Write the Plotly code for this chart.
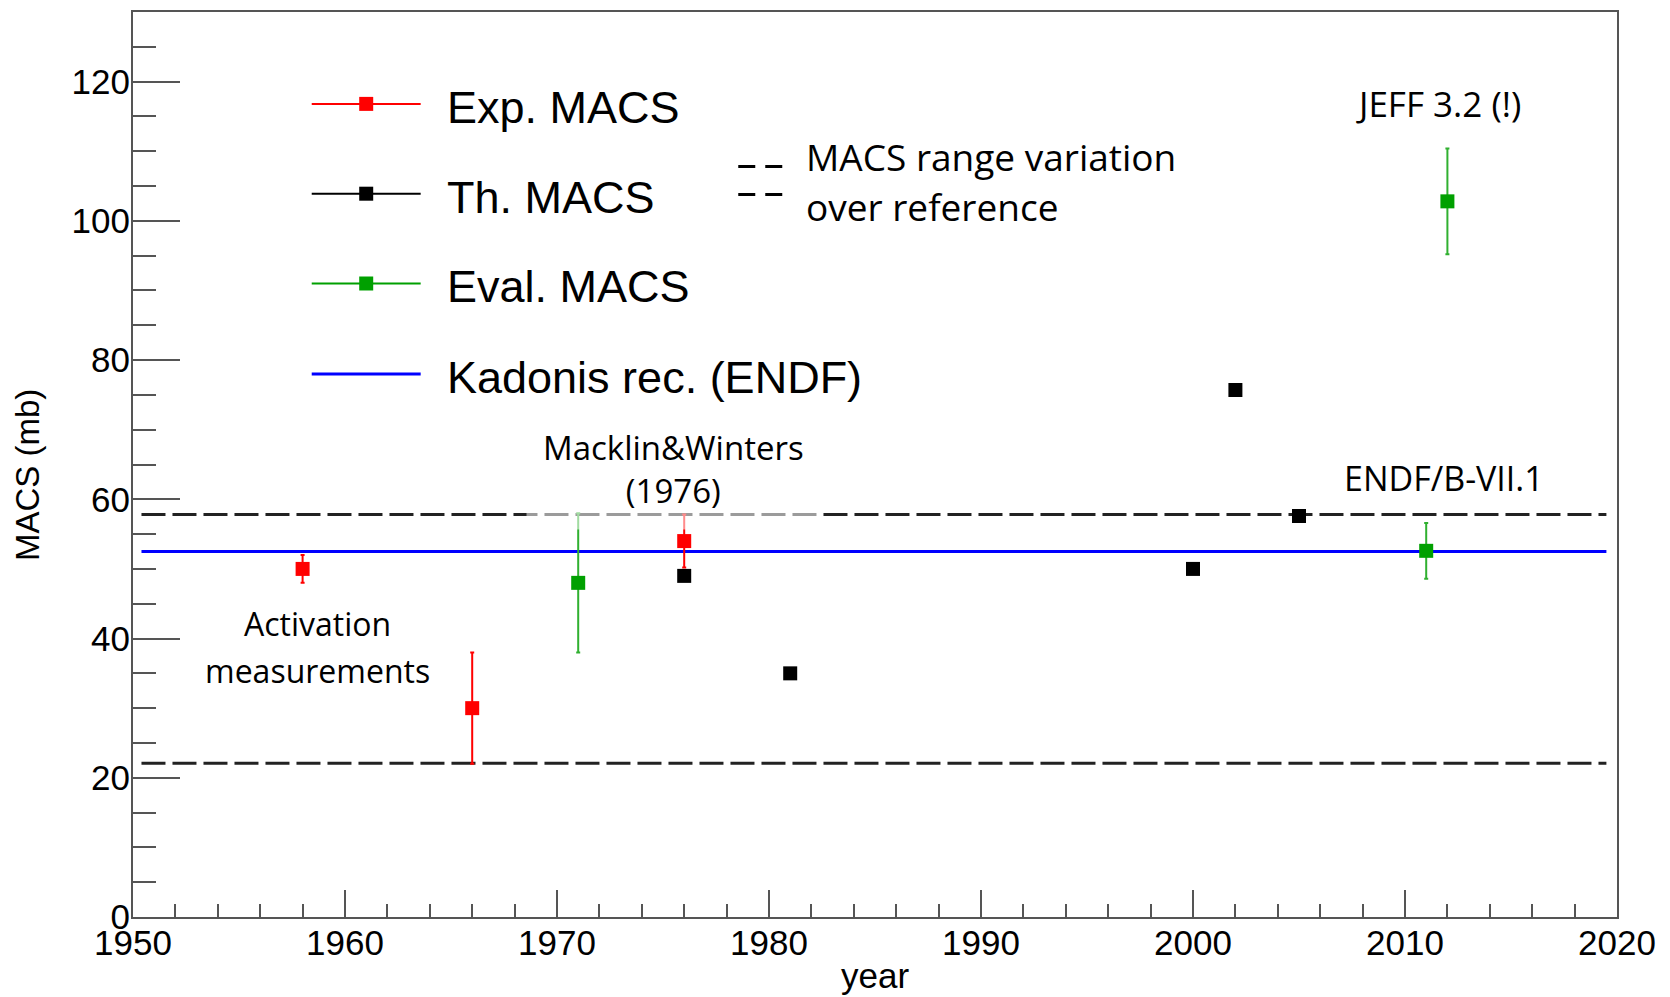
import plotly.graph_objects as go

# ---- data (MACS in mb versus year of publication) ----
exp_year = [1958, 1966, 1976]
exp_macs = [50.0, 30.0, 54.0]
exp_err = [2.0, 8.0, 3.8]

th_year = [1976, 1981, 2000, 2002, 2005]
th_macs = [49.0, 35.0, 50.0, 75.7, 57.6]

eval_year = [1971, 2011, 2012]
eval_macs = [48.0, 52.6, 102.8]
eval_err = [10.0, 4.0, 7.6]

kadonis_macs = 52.5          # recommended value (ENDF)
range_low = 22.1             # lower edge of MACS spread
range_high = 57.8            # upper edge of MACS spread
ref_span = [1950.4, 2019.5]  # horizontal extent of the reference lines

x_ticks = [1950, 1960, 1970, 1980, 1990, 2000, 2010, 2020]
y_ticks = [0, 20, 40, 60, 80, 100, 120]

# ---- style ----
AXIS_FONT = "Liberation Sans, Arial, Helvetica, sans-serif"
NOTE_FONT = "Open Sans, sans-serif"
RED = "#ff0000"
BLACK = "#000000"
GREEN = "#00a000"
GREEN_ERR = "#30b030"
BLUE = "#0000ff"
FRAME = "#555555"
DASH_COL = "#222222"

fig = go.Figure()

# reference lines
for yv in (range_high, range_low):
    fig.add_trace(go.Scatter(
        x=ref_span, y=[yv, yv], mode="lines",
        line=dict(color=DASH_COL, width=3, dash="24px,7px"),
        showlegend=False, hoverinfo="skip"))
fig.add_trace(go.Scatter(
    x=ref_span, y=[kadonis_macs, kadonis_macs], mode="lines",
    line=dict(color=BLUE, width=3), showlegend=False, hoverinfo="skip"))

# measurements / calculations / evaluations
fig.add_trace(go.Scatter(
    x=exp_year, y=exp_macs, mode="markers", name="Exp. MACS",
    marker=dict(symbol="square", size=14, color=RED, line=dict(width=0)),
    error_y=dict(type="data", array=exp_err, color=RED, thickness=2, width=2),
    showlegend=False))
fig.add_trace(go.Scatter(
    x=eval_year, y=eval_macs, mode="markers", name="Eval. MACS",
    marker=dict(symbol="square", size=14, color=GREEN, line=dict(width=0)),
    error_y=dict(type="data", array=eval_err, color=GREEN_ERR, thickness=2, width=2),
    showlegend=False))
fig.add_trace(go.Scatter(
    x=th_year, y=th_macs, mode="markers", name="Th. MACS",
    marker=dict(symbol="square", size=14, color=BLACK, line=dict(width=0)),
    showlegend=False))

# ---- hand-built legend (ROOT style, long sample lines) ----
legend_rows = [
    ("Exp. MACS", RED, True, 116.8),
    ("Th. MACS", BLACK, True, 103.9),
    ("Eval. MACS", GREEN, True, 91.0),
    ("Kadonis rec. (ENDF)", BLUE, False, 78.0),
]
key_x0, key_x1, key_mid, key_text = 1958.43, 1963.57, 1961.0, 1964.7
shapes = []
annotations = []
for label, col, with_marker, yk in legend_rows:
    shapes.append(dict(type="line", xref="x", yref="y", x0=key_x0, x1=key_x1,
                       y0=yk, y1=yk, line=dict(color=col, width=3 if not with_marker else 2)))
    if with_marker:
        shapes.append(dict(type="rect", xref="x", yref="y",
                           xsizemode="pixel", ysizemode="pixel",
                           xanchor=key_mid, yanchor=yk, x0=-7, x1=7, y0=-7, y1=7,
                           fillcolor=col, line=dict(width=0)))
    annotations.append(dict(x=key_text, y=yk - 0.5, text=label,
                            xanchor="left", yanchor="middle",
                            font=dict(family=AXIS_FONT, size=45, color="black")))

# dashed key for the range lines
for yk in (107.8, 103.8):
    shapes.append(dict(type="line", xref="x", yref="y", x0=1978.55, x1=1980.65,
                       y0=yk, y1=yk, line=dict(color=BLACK, width=3, dash="17px,10px")))


def note(x, y, text, size, **kw):
    d = dict(x=x, y=y, text=text, xanchor="center", yanchor="middle",
             font=dict(family=NOTE_FONT, size=size, color="black"))
    d.update(kw)
    return d


annotations += [
    note(1981.65, 109.3, "MACS range variation", 37, xanchor="left"),
    note(1981.65, 102.0, "over reference", 37, xanchor="left"),
    note(1958.7, 42.1, "Activation", 32),
    note(1958.7, 35.4, "measurements", 32),
    note(1975.5, 64.4, "Macklin&amp;Winters<br>(1976)", 33, align="center",
         bgcolor="rgba(255,255,255,0.55)", borderpad=16),
    note(2011.6, 116.8, "JEFF 3.2 (!)", 35),
    note(2011.85, 63.1, "ENDF/B-VII.1", 34),
]
for a in annotations:
    a.setdefault("xref", "x")
    a.setdefault("yref", "y")
    a.setdefault("showarrow", False)

# axis titles
annotations += [
    dict(x=1985, y=-0.065, xref="x", yref="paper", text="year", showarrow=False,
         xanchor="center", yanchor="middle",
         font=dict(family=AXIS_FONT, size=35, color="black")),
    dict(x=-0.071, y=0.488, xref="paper", yref="paper", text="MACS (mb)", showarrow=False,
         textangle=-90, xanchor="center", yanchor="middle",
         font=dict(family=AXIS_FONT, size=33, color="black")),
]

fig.update_layout(
    width=1670, height=997,
    margin=dict(l=133, r=53, t=10, b=80, pad=0),
    plot_bgcolor="white", paper_bgcolor="white",
    shapes=shapes, annotations=annotations,
    showlegend=False,
)
fig.update_xaxes(
    range=[1950, 2020], tickvals=x_ticks, ticktext=[str(v) for v in x_ticks],
    showgrid=False, zeroline=False,
    showline=True, linecolor=FRAME, linewidth=2, mirror=True,
    ticks="inside", ticklen=27, tickwidth=2, tickcolor=FRAME,
    minor=dict(ticks="inside", dtick=2, ticklen=13, tickwidth=2, tickcolor=FRAME),
    tickfont=dict(family=AXIS_FONT, size=35, color="black"),
    ticklabelstandoff=-6,
)
fig.update_yaxes(
    range=[0, 130], tickvals=y_ticks, ticktext=[str(v) for v in y_ticks],
    showgrid=False, zeroline=False,
    showline=True, linecolor=FRAME, linewidth=2, mirror=True,
    ticks="inside", ticklen=47, tickwidth=2, tickcolor=FRAME,
    minor=dict(ticks="inside", dtick=5, ticklen=23, tickwidth=2, tickcolor=FRAME),
    tickfont=dict(family=AXIS_FONT, size=35, color="black"),
    ticklabelstandoff=-6,
)

fig.write_html("out.html")
